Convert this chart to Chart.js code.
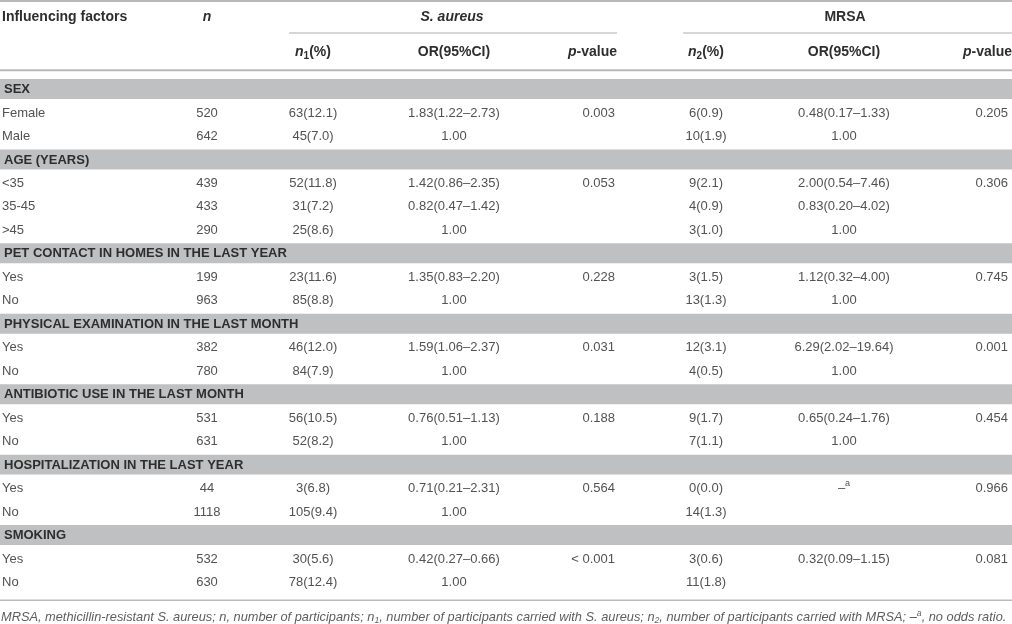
<!DOCTYPE html>
<html>
<head>
<meta charset="utf-8">
<script src="https://cdn.jsdelivr.net/npm/chart.js@4"></script>
<style>
  html, body { margin: 0; padding: 0; background: #fff; }
  canvas { display: block; }
</style>
</head>
<body>
<canvas id="factorsTable" width="1012" height="624"></canvas>
<script>
// table data, one entry per level row (section rows are built from groups)
const groups = [
  "SEX",
  "AGE (YEARS)",
  "PET CONTACT IN HOMES IN THE LAST YEAR",
  "PHYSICAL EXAMINATION IN THE LAST MONTH",
  "ANTIBIOTIC USE IN THE LAST MONTH",
  "HOSPITALIZATION IN THE LAST YEAR",
  "SMOKING",
];
const levels = [
  ["Female", "Male"],
  ["<35", "35-45", ">45"],
  ["Yes", "No"],
  ["Yes", "No"],
  ["Yes", "No"],
  ["Yes", "No"],
  ["Yes", "No"],
];
const nTotal = [520, 642, 439, 433, 290, 199, 963, 382, 780, 531, 631, 44, 1118, 532, 630];
const n1Count = [63, 45, 52, 31, 25, 23, 85, 46, 84, 56, 52, 3, 105, 30, 78];
const n1Pct = [12.1, 7.0, 11.8, 7.2, 8.6, 11.6, 8.8, 12.0, 7.9, 10.5, 8.2, 6.8, 9.4, 5.6, 12.4];
const orSa = [
  "1.83(1.22–2.73)", "1.00",
  "1.42(0.86–2.35)", "0.82(0.47–1.42)", "1.00",
  "1.35(0.83–2.20)", "1.00",
  "1.59(1.06–2.37)", "1.00",
  "0.76(0.51–1.13)", "1.00",
  "0.71(0.21–2.31)", "1.00",
  "0.42(0.27–0.66)", "1.00",
];
const pSa = ["0.003", "0.053", "0.228", "0.031", "0.188", "0.564", "< 0.001"];
const n2Count = [6, 10, 9, 4, 3, 3, 13, 12, 4, 9, 7, 0, 14, 3, 11];
const n2Pct = [0.9, 1.9, 2.1, 0.9, 1.0, 1.5, 1.3, 3.1, 0.5, 1.7, 1.1, 0.0, 1.3, 0.6, 1.8];
const orMrsa = [
  "0.48(0.17–1.33)", "1.00",
  "2.00(0.54–7.46)", "0.83(0.20–4.02)", "1.00",
  "1.12(0.32–4.00)", "1.00",
  "6.29(2.02–19.64)", "1.00",
  "0.65(0.24–1.76)", "1.00",
  "–a", "",
  "0.32(0.09–1.15)", "",
];
const pMrsa = ["0.205", "0.306", "0.745", "0.001", "0.454", "0.966", "0.081"];

// layout (x in table units, 0..1012)
const TABLE_W = 1012;
const colX = { label: 2, n: 207, n1: 313, orSa: 454, pSa: 615, n2: 706, orMrsa: 844, pMrsa: 1008 };
const FAMILY = '"Liberation Sans", Arial, Helvetica, sans-serif';
const BODY = "13px " + FAMILY;
const BOLD = "bold 13px " + FAMILY;
const HBOLD = "bold 14px " + FAMILY;
const HBOLD_IT = "italic bold 14px " + FAMILY;
const SMALL_BOLD = "bold 10px " + FAMILY;
const SMALL = "9px " + FAMILY;
const TEXT = "#525252";
const HEAD = "#2e2e2e";
const BAND = "#bfc0c2";
const RULE = "#b9b9b9";

function buildRows() {
  const rows = [];
  let k = 0;
  groups.forEach((g, gi) => {
    rows.push({ section: true, label: g });
    levels[gi].forEach((lv, li) => {
      rows.push({
        section: false,
        label: lv,
        n: String(nTotal[k]),
        n1: n1Count[k] + "(" + n1Pct[k].toFixed(1) + ")",
        orSa: orSa[k],
        pSa: li === 0 ? pSa[gi] : "",
        n2: n2Count[k] + "(" + n2Pct[k].toFixed(1) + ")",
        orMrsa: orMrsa[k],
        pMrsa: li === 0 ? pMrsa[gi] : "",
      });
      k++;
    });
  });
  return rows;
}

function runsWidth(ctx, runs) {
  let w = 0;
  runs.forEach((r) => {
    ctx.font = r.font;
    w += ctx.measureText(r.text).width;
  });
  return w;
}

function drawRuns(ctx, runs, x, y, align) {
  const w = runsWidth(ctx, runs);
  let cx = align === "center" ? x - w / 2 : align === "right" ? x - w : x;
  ctx.textAlign = "left";
  runs.forEach((r) => {
    ctx.font = r.font;
    ctx.fillText(r.text, cx, y + (r.dy || 0));
    cx += ctx.measureText(r.text).width;
  });
}

function cellRuns(text) {
  if (text === "–a") {
    return [{ text: "–", font: BODY }, { text: "a", font: SMALL, dy: -5 }];
  }
  return [{ text: text, font: BODY }];
}

function noteRuns(size) {
  const f = "italic " + size + "px " + FAMILY;
  const s = "italic " + (size * 0.68).toFixed(2) + "px " + FAMILY;
  return [
    { text: "MRSA, methicillin-resistant S. aureus; n, number of participants; n", font: f },
    { text: "1", font: s, dy: 3 },
    { text: ", number of participants carried with S. aureus; n", font: f },
    { text: "2", font: s, dy: 3 },
    { text: ", number of participants carried with MRSA; –", font: f },
    { text: "a", font: s, dy: -4 },
    { text: ", no odds ratio.", font: f },
  ];
}

function hline(ctx, x1, x2, y, w, color) {
  ctx.save();
  ctx.strokeStyle = color;
  ctx.lineWidth = w;
  ctx.beginPath();
  ctx.moveTo(x1, y);
  ctx.lineTo(x2, y);
  ctx.stroke();
  ctx.restore();
}

const rows = buildRows();

const tablePlugin = {
  id: "tableText",
  afterDatasetsDraw(chart) {
    const ctx = chart.ctx;
    const xs = chart.scales.x;
    const ys = chart.scales.y;
    const px = (v) => xs.getPixelForValue(v);
    const pitch = ys.getPixelForValue(1) - ys.getPixelForValue(0);
    const top = ys.getPixelForValue(0) - pitch / 2;
    const bottom = ys.getPixelForValue(rows.length - 1) + pitch / 2;

    ctx.save();
    ctx.textBaseline = "middle";

    // rules
    hline(ctx, px(0), px(TABLE_W), 1, 2, RULE);
    hline(ctx, px(0), px(TABLE_W), top - 7, 2, RULE);
    hline(ctx, px(0), px(TABLE_W), bottom + 6.5, 1.5, RULE);
    hline(ctx, px(289), px(617), 33, 1.5, "#c9c9c9");
    hline(ctx, px(683), px(TABLE_W), 33, 1.5, "#c9c9c9");

    // header
    const h1 = 17, h2 = 52;
    ctx.fillStyle = HEAD;
    drawRuns(ctx, [{ text: "Influencing factors", font: HBOLD }], px(colX.label), h1, "left");
    drawRuns(ctx, [{ text: "n", font: HBOLD_IT }], px(colX.n), h1, "center");
    drawRuns(ctx, [{ text: "S. aureus", font: HBOLD_IT }], px(452), h1, "center");
    drawRuns(ctx, [{ text: "MRSA", font: HBOLD }], px(845), h1, "center");
    const sub = (d) => [
      { text: "n", font: HBOLD_IT },
      { text: d, font: SMALL_BOLD, dy: 4 },
      { text: "(%)", font: HBOLD },
    ];
    const pv = [{ text: "p", font: HBOLD_IT }, { text: "-value", font: HBOLD }];
    drawRuns(ctx, sub("1"), px(colX.n1), h2, "center");
    drawRuns(ctx, [{ text: "OR(95%CI)", font: HBOLD }], px(colX.orSa), h2, "center");
    drawRuns(ctx, pv, px(617), h2, "right");
    drawRuns(ctx, sub("2"), px(colX.n2), h2, "center");
    drawRuns(ctx, [{ text: "OR(95%CI)", font: HBOLD }], px(colX.orMrsa), h2, "center");
    drawRuns(ctx, pv, px(TABLE_W), h2, "right");

    // body
    rows.forEach((r, i) => {
      const y = ys.getPixelForValue(i) + 0.5;
      if (r.section) {
        ctx.fillStyle = HEAD;
        drawRuns(ctx, [{ text: r.label, font: BOLD }], px(colX.label + 2), y, "left");
        return;
      }
      ctx.fillStyle = TEXT;
      drawRuns(ctx, cellRuns(r.label), px(colX.label), y, "left");
      drawRuns(ctx, cellRuns(r.n), px(colX.n), y, "center");
      drawRuns(ctx, cellRuns(r.n1), px(colX.n1), y, "center");
      drawRuns(ctx, cellRuns(r.orSa), px(colX.orSa), y, "center");
      drawRuns(ctx, cellRuns(r.pSa), px(colX.pSa), y, "right");
      drawRuns(ctx, cellRuns(r.n2), px(colX.n2), y, "center");
      drawRuns(ctx, cellRuns(r.orMrsa), px(colX.orMrsa), y, "center");
      drawRuns(ctx, cellRuns(r.pMrsa), px(colX.pMrsa), y, "right");
    });

    // footnote, sized to run across the table width
    const base = 12;
    const noteSize = base * (px(1007) - px(1)) / runsWidth(ctx, noteRuns(base));
    ctx.fillStyle = "#5e5e5e";
    drawRuns(ctx, noteRuns(noteSize), px(1), bottom + 23.5, "left");

    ctx.restore();
  },
};

function renderTable() {
  const ctx = document.getElementById("factorsTable").getContext("2d");
  new Chart(ctx, {
    type: "bar",
    data: {
      labels: rows.map((r) => r.label),
      datasets: [
        {
          label: "section bands",
          data: rows.map((r) => (r.section ? [0, TABLE_W] : null)),
          backgroundColor: BAND,
          borderWidth: 0,
          barPercentage: 1,
          categoryPercentage: 0.85,
        },
      ],
    },
    options: {
      indexAxis: "y",
      responsive: false,
      animation: false,
      layout: { padding: { top: 77.26, bottom: 30.26, left: 0, right: 0 } },
      scales: {
        x: { type: "linear", min: 0, max: TABLE_W, display: false },
        y: { type: "category", display: false, offset: true },
      },
      plugins: {
        legend: { display: false },
        tooltip: { enabled: false },
      },
    },
    plugins: [tablePlugin],
  });
}

document.addEventListener("DOMContentLoaded", renderTable);
</script>
</body>
</html>
